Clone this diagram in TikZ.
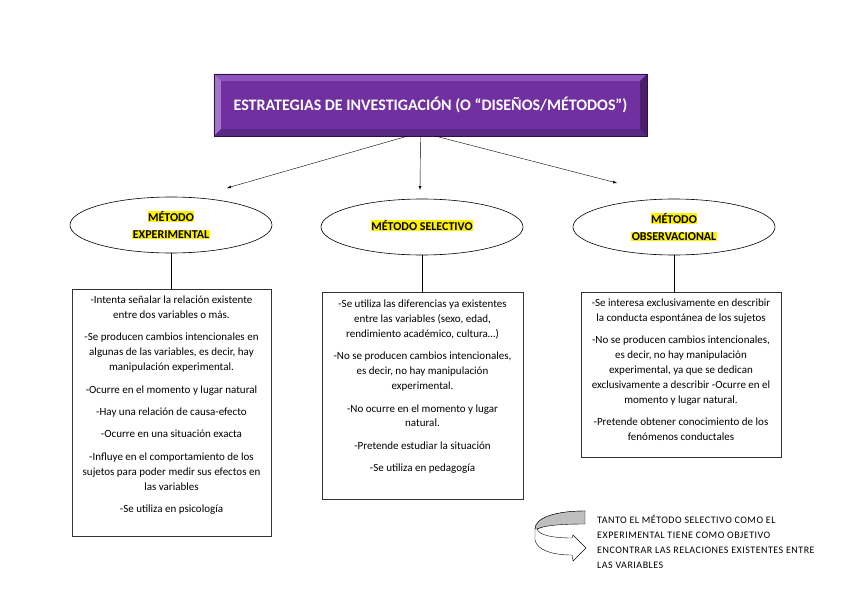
\documentclass[tikz,border=0pt]{standalone}
\usepackage{fontspec}
\setmainfont{Carlito}
\usepackage{tikz}
\usetikzlibrary{positioning,shapes,arrows,calc}
\definecolor{morado}{HTML}{7030A0}
\definecolor{moradoclaro}{HTML}{A274CB}
\definecolor{moradomedio}{HTML}{8D55BB}
\definecolor{moradooscuro}{HTML}{4A1E6C}
\definecolor{moradobajo}{HTML}{5A2884}
\tikzstyle{titulo}=[rectangle, fill=morado, draw=moradooscuro!70!black, very thin,
        minimum width=433pt, minimum height=62pt, inner sep=0pt, text=white,
        font=\fontsize{16}{19}\selectfont\bfseries]
\tikzstyle{metodo}=[ellipse, draw=black, semithick, fill=white, minimum width=202pt,
        minimum height=56pt, inner sep=0pt, align=center,
        font=\fontsize{12}{17}\selectfont\bfseries]
\tikzstyle{caja}=[rectangle, draw=black!80, thin, inner sep=0pt]
\tikzstyle{texto}=[inner sep=0pt, align=center, font=\fontsize{11}{14.9}\selectfont]
\tikzstyle{myarrow}=[-latex, thin]
\newcommand{\resalta}[1]{{\setlength{\fboxsep}{0.6pt}\colorbox{yellow}{#1}}}
\newcommand{\sep}{\\[7.5pt]}

\begin{document}
\begin{tikzpicture}[x=1pt,y=1pt]
	\useasboundingbox (0,0) rectangle (848,-599);

	% titulo con bisel
	\node (titulo) [titulo] at (430.5,-105) {};
	\fill[moradomedio] (titulo.north west) -- (titulo.north east)
		-- ($(titulo.north east)+(-7pt,-7pt)$) -- ($(titulo.north west)+(7pt,-7pt)$) -- cycle;
	\fill[moradoclaro] (titulo.north west) -- ($(titulo.north west)+(7pt,-7pt)$)
		-- ($(titulo.south west)+(7pt,7pt)$) -- (titulo.south west) -- cycle;
	\fill[moradooscuro] (titulo.north east) -- ($(titulo.north east)+(-7pt,-7pt)$)
		-- ($(titulo.south east)+(-7pt,7pt)$) -- (titulo.south east) -- cycle;
	\fill[moradobajo] (titulo.south west) -- ($(titulo.south west)+(7pt,7pt)$)
		-- ($(titulo.south east)+(-7pt,7pt)$) -- (titulo.south east) -- cycle;
	\draw[moradooscuro!60!black, very thin] (titulo.north west) rectangle (titulo.south east);
	\node (tittexto) [titulo, fill=none, draw=none, minimum width=0pt, minimum height=0pt]
		at (titulo.center) {ESTRATEGIAS DE INVESTIGACIÓN (O “DISEÑOS/MÉTODOS”)};

	% metodos
	\node (exp) [metodo] at (171,-225) {\resalta{MÉTODO}\\\resalta{EXPERIMENTAL}};
	\node (sel) [metodo] at (422,-227) {\raisebox{4pt}{\resalta{MÉTODO SELECTIVO}}};
	\node (obs) [metodo] at (674,-227) {\resalta{MÉTODO}\\\resalta{OBSERVACIONAL}};

	\coordinate (fexp) at (227,-188);
	\coordinate (fsel) at (420,-190);
	\coordinate (fobs) at (617,-183);
	\draw[myarrow] ([xshift=-23pt]titulo.south) -- (fexp);
	\draw[myarrow] ([xshift=-10pt]titulo.south) -- (fsel);
	\draw[myarrow] ([xshift=5pt]titulo.south) -- (fobs);

	% cajas
	\node (expbox) [caja, minimum width=199pt, minimum height=247pt] at (171.5,-412.5) {};
	\node (selbox) [caja, minimum width=201pt, minimum height=207pt] at (422.5,-395.5) {};
	\node (obsbox) [caja, minimum width=200pt, minimum height=165pt] at (681,-374.5) {};

	\draw (exp.south) -- (exp.south |- expbox.north);
	\draw (sel.south) -- (sel.south |- selbox.north);
	\draw (obs.south) -- (obs.south |- obsbox.north);

	\node (exptxt) [texto, below=7pt of expbox.north]
		{-Intenta señalar la relación existente\\
		entre dos variables o más.\sep
		-Se producen cambios intencionales en\\
		algunas de las variables, es decir, hay\\
		manipulación experimental.\sep
		-Ocurre en el momento y lugar natural\sep
		-Hay una relación de causa-efecto\sep
		-Ocurre en una situación exacta\sep
		-Influye en el comportamiento de los\\
		sujetos para poder medir sus efectos en\\
		las variables\sep
		-Se utiliza en psicología};

	\node (seltxt) [texto, below=8pt of selbox.north]
		{-Se utiliza las diferencias ya existentes\\
		entre las variables (sexo, edad,\\
		rendimiento académico, cultura…)\sep
		-No se producen cambios intencionales,\\
		es decir, no hay manipulación\\
		experimental.\sep
		-No ocurre en el momento y lugar\\
		natural.\sep
		-Pretende estudiar la situación\sep
		-Se utiliza en pedagogía};

	\node (obstxt) [texto, below=6.5pt of obsbox.north]
		{-Se interesa exclusivamente en describir\\
		la conducta espontánea de los sujetos\sep
		-No se producen cambios intencionales,\\
		es decir, no hay manipulación\\
		experimental, ya que se dedican\\
		exclusivamente a describir -Ocurre en el\\
		momento y lugar natural.\sep
		-Pretende obtener conocimiento de los\\
		fenómenos conductales};

	% flecha curva y nota
	\filldraw[fill=white, draw=black, thin] (585,-511) .. controls (555,-511) and (535,-518) .. (535,-529)
		-- (535,-540) .. controls (537,-550) and (552,-555) .. (572,-555)
		-- (573,-561) -- (586,-548) -- (573,-535) -- (572,-538)
		.. controls (552,-538) and (539,-535) .. (537,-529) -- cycle;
	\filldraw[fill=black!25, draw=black, thin] (585,-511) .. controls (555,-511) and (535,-518) .. (535,-529)
		-- (537,-529) .. controls (545,-525) and (565,-524) .. (585,-524) -- cycle;
	\node (nota) [anchor=north west, inner sep=0pt, align=left,
		font=\fontsize{10}{15}\selectfont\addfontfeatures{LetterSpace=5}] at (597,-515)
		{TANTO EL MÉTODO SELECTIVO COMO EL\\
		EXPERIMENTAL TIENE COMO OBJETIVO\\
		ENCONTRAR LAS RELACIONES EXISTENTES ENTRE\\
		LAS VARIABLES};

\end{tikzpicture}
\end{document}
